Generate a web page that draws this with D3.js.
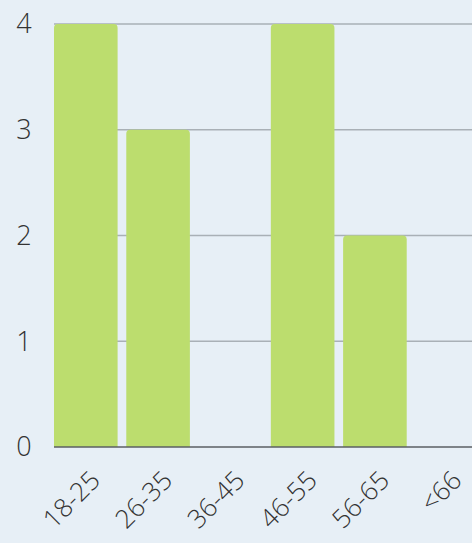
<!DOCTYPE html>
<html>
<head>
<meta charset="utf-8">
<script src="https://cdn.jsdelivr.net/npm/d3@7"></script>
<style>
  body { margin: 0; background: #e7eff6; }
  text { font-family: "Open Sans", sans-serif; fill: #333; }
</style>
</head>
<body>
<script>
// age groups and counts
var categories = ["18-25", "26-35", "36-45", "46-55", "56-65", "<66"];
var counts = [4, 3, 0, 4, 2, 0];
var yTicks = [0, 1, 2, 3, 4];

var width = 472,
    height = 543;

var svg = d3.select("body")
            .append("svg")
            .attr("width", width)
            .attr("height", height);

var x = d3.scaleBand()
          .domain(categories)
          .range([54, 479])
          .paddingInner(0.12)
          .paddingOuter(0);

var y = d3.scaleLinear()
          .domain([0, 4])
          .range([447, 24]);

// gridlines
svg.append("g")
   .selectAll("line")
   .data(yTicks.slice(1))
   .enter()
   .append("line")
      .attr("x1", 54)
      .attr("x2", width)
      .attr("y1", d => y(d))
      .attr("y2", d => y(d))
      .attr("stroke", "#a9b0b6")
      .attr("stroke-width", 1.5);

// bars, rounded on top only
var r = 4;
svg.append("g")
   .selectAll("path")
   .data(categories.map((c, i) => ({cat: c, val: counts[i]})).filter(d => d.val > 0))
   .enter()
   .append("path")
      .attr("fill", "#bcdd6e")
      .attr("d", function(d) {
          var x0 = x(d.cat), x1 = x0 + x.bandwidth(),
              y0 = y(0), y1 = y(d.val);
          return "M" + x0 + "," + y0 +
                 "V" + (y1 + r) +
                 "Q" + x0 + "," + y1 + " " + (x0 + r) + "," + y1 +
                 "H" + (x1 - r) +
                 "Q" + x1 + "," + y1 + " " + x1 + "," + (y1 + r) +
                 "V" + y0 + "Z";
      });

// baseline
svg.append("line")
   .attr("x1", 54)
   .attr("x2", width)
   .attr("y1", y(0))
   .attr("y2", y(0))
   .attr("stroke", "#5b5f63")
   .attr("stroke-width", 1.5);

// y labels
svg.append("g")
   .selectAll("text")
   .data(yTicks)
   .enter()
   .append("text")
      .attr("x", 24)
      .attr("y", d => y(d))
      .attr("dy", "0.35em")
      .attr("text-anchor", "middle")
      .style("font-size", "27px")
      .style("font-weight", 300)
      .text(d => d);

// x labels, rotated
svg.append("g")
   .selectAll("text")
   .data(categories)
   .enter()
   .append("text")
      .attr("transform", d => "translate(" + (x(d) + x.bandwidth() / 2 + 16) + "," + 482 + ") rotate(-45)")
      .attr("text-anchor", "end")
      .style("font-size", "26px")
      .style("font-weight", 300)
      .text(d => d);
</script>
</body>
</html>
